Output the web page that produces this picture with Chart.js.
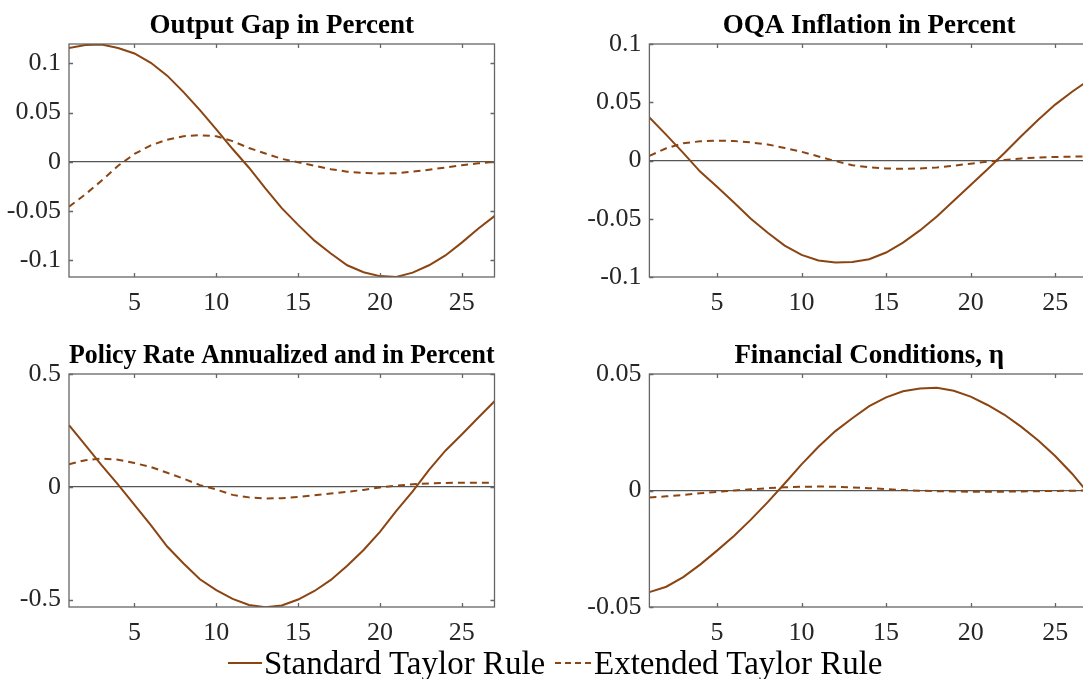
<!DOCTYPE html>
<html>
<head>
<meta charset="utf-8">
<script src="https://cdn.jsdelivr.net/npm/chart.js@4/dist/chart.umd.min.js"></script>
<style>
  html, body { margin: 0; padding: 0; background: #fff; width: 1083px; height: 679px; overflow: hidden; }
  .panel { position: absolute; }
  .legend-text { position: absolute; font-family: "Liberation Serif", "Times New Roman", serif; font-size: 33px; line-height: 33px; color: #000; white-space: nowrap; }
  .legend-line { position: absolute; height: 0; }
</style>
</head>
<body>
<div class="panel" style="left:0px;top:0px;"><canvas id="c1" width="506" height="330"></canvas></div>
<div class="panel" style="left:560px;top:0px;"><canvas id="c2" width="540" height="330"></canvas></div>
<div class="panel" style="left:0px;top:330px;"><canvas id="c3" width="506" height="349"></canvas></div>
<div class="panel" style="left:560px;top:330px;"><canvas id="c4" width="540" height="349"></canvas></div>

<div class="legend-line" style="left:228px;top:662px;width:34px;border-top:2px solid #8B4513;"></div>
<div class="legend-text" style="left:264px;top:647px;">Standard Taylor Rule</div>
<div class="legend-line" style="left:555px;top:662px;width:36px;border-top:2px dashed #8B4513;"></div>
<div class="legend-text" style="left:594px;top:647px;">Extended Taylor Rule</div>

<script>
// ---------------- DATA ----------------
const periods = [1,2,3,4,5,6,7,8,9,10,11,12,13,14,15,16,17,18,19,20,21,22,23,24,25,26,27];

const seriesNames = ['Standard Taylor Rule', 'Extended Taylor Rule'];

const panelTitles = [
  'Output Gap in Percent',
  'OQA Inflation in Percent',
  'Policy Rate Annualized and in Percent',
  'Financial Conditions, \u03B7'
];

// Output gap
const outputGapStandard = [0.1155,0.1185,0.119,0.1155,0.110,0.1005,0.0875,0.0708,0.0525,0.033,0.013,-0.006,-0.027,-0.047,-0.064,-0.080,-0.093,-0.105,-0.112,-0.116,-0.1168,-0.1125,-0.105,-0.095,-0.082,-0.068,-0.055];
const outputGapExtended = [-0.0456,-0.033,-0.019,-0.004,0.008,0.0167,0.0225,0.026,0.027,0.026,0.021,0.014,0.0085,0.003,-0.0005,-0.004,-0.0075,-0.010,-0.0113,-0.0118,-0.0115,-0.010,-0.008,-0.0058,-0.0035,-0.0015,0.0];

// OQA inflation
const inflationStandard = [0.037,0.022,0.0065,-0.0095,-0.0225,-0.036,-0.050,-0.062,-0.073,-0.081,-0.0858,-0.0875,-0.0872,-0.0848,-0.079,-0.0705,-0.060,-0.048,-0.0345,-0.021,-0.0075,0.0065,0.021,0.035,0.048,0.059,0.069];
const inflationExtended = [0.004,0.0105,0.0148,0.0165,0.0171,0.0167,0.0155,0.0138,0.0108,0.0075,0.0035,-0.0005,-0.004,-0.0058,-0.0068,-0.0071,-0.0069,-0.006,-0.0045,-0.0027,-0.001,0.0005,0.0018,0.0026,0.003,0.0033,0.0035];

// Policy rate
const policyRateStandard = [0.273,0.185,0.095,0.01,-0.08,-0.17,-0.265,-0.34,-0.41,-0.458,-0.497,-0.524,-0.534,-0.526,-0.500,-0.462,-0.413,-0.350,-0.280,-0.20,-0.107,-0.02,0.075,0.16,0.232,0.306,0.379];
const policyRateExtended = [0.100,0.118,0.125,0.12,0.105,0.088,0.062,0.036,0.0074,-0.012,-0.036,-0.047,-0.0516,-0.051,-0.045,-0.038,-0.030,-0.022,-0.014,-0.003,0.005,0.011,0.015,0.017,0.018,0.018,0.0177];

// Financial conditions
const financialStandard = [-0.0436,-0.0413,-0.0372,-0.0318,-0.0258,-0.0195,-0.0125,-0.005,0.003,0.0112,0.0188,0.0255,0.031,0.0362,0.040,0.0426,0.0438,0.0441,0.0428,0.0403,0.0367,0.0325,0.0273,0.0215,0.0148,0.0072,-0.0015];
const financialExtended = [-0.003,-0.0025,-0.0019,-0.0012,-0.0006,0.0,0.0005,0.001,0.0014,0.0016,0.0017,0.0016,0.0013,0.001,0.0006,0.0002,-0.0001,-0.0003,-0.0004,-0.0005,-0.0005,-0.0005,-0.0004,-0.0003,-0.0002,-0.0001,0.0];

// Tick values and labels
const xTicks = [5,10,15,20,25];
const xTickLabels = ['5','10','15','20','25'];
const yTicks1 = [-0.1,-0.05,0,0.05,0.1];
const yTickLabels1 = ['-0.1','-0.05','0','0.05','0.1'];
const yTicks2 = [-0.1,-0.05,0,0.05,0.1];
const yTickLabels2 = ['-0.1','-0.05','0','0.05','0.1'];
const yTicks3 = [-0.5,0,0.5];
const yTickLabels3 = ['-0.5','0','0.5'];
const yTicks4 = [-0.05,0,0.05];
const yTickLabels4 = ['-0.05','0','0.05'];

// Axis ranges
const xRange = [1, 27];
const yRange1 = [-0.1169, 0.1196];
const yRange2 = [-0.1, 0.1];
const yRange3 = [-0.533, 0.5];
const yRange4 = [-0.05, 0.05];

// ---------------- STYLE ----------------
const LINE_COLOR = '#8B4513';
const FONT = '"Liberation Serif", "Times New Roman", serif';

const boxPlugin = {
  id: 'boxTicks',
  afterDatasetsDraw(chart) {
    const ctx = chart.ctx;
    const a = chart.chartArea;
    const xs = chart.scales.x, ys = chart.scales.y;
    ctx.save();
    ctx.strokeStyle = '#666666';
    ctx.lineWidth = 1.3;
    ctx.strokeRect(a.left, a.top, a.right - a.left, a.bottom - a.top);
    ctx.beginPath();
    const tl = 4;
    xs.ticks.forEach(t => {
      const px = Math.round(xs.getPixelForValue(t.value)) + 0.5;
      ctx.moveTo(px, a.bottom); ctx.lineTo(px, a.bottom - tl);
      ctx.moveTo(px, a.top); ctx.lineTo(px, a.top + tl);
    });
    ys.ticks.forEach(t => {
      const py = Math.round(ys.getPixelForValue(t.value)) + 0.5;
      ctx.moveTo(a.left, py); ctx.lineTo(a.left + tl, py);
      ctx.moveTo(a.right, py); ctx.lineTo(a.right - tl, py);
    });
    ctx.stroke();
    ctx.restore();
  }
};

function toPoints(values) {
  return periods.map((p, i) => ({ x: p, y: values[i] }));
}

function makePanel(id, title, std, ext, yRange, yTicks, yLabels, yAxisWidth, xAxisHeight, padRight) {
  const ctx = document.getElementById(id).getContext('2d');
  return new Chart(ctx, {
    type: 'line',
    data: {
      datasets: [
        { label: seriesNames[0], data: toPoints(std), borderColor: LINE_COLOR, borderWidth: 2, pointRadius: 0, tension: 0, fill: false },
        { label: seriesNames[1], data: toPoints(ext), borderColor: LINE_COLOR, borderWidth: 2, borderDash: [7, 5], pointRadius: 0, tension: 0, fill: false }
      ]
    },
    options: {
      responsive: false,
      animation: false,
      devicePixelRatio: 1,
      layout: { padding: { left: 0, right: padRight, top: 0, bottom: 0 } },
      plugins: {
        legend: { display: false },
        tooltip: { enabled: false },
        title: {
          display: true,
          text: title,
          fullSize: false,
          color: '#000',
          font: { family: FONT, size: 27, weight: 'bold', lineHeight: 1.2 },
          padding: { top: 10, bottom: 1.6 }
        }
      },
      scales: {
        x: {
          type: 'linear',
          min: xRange[0], max: xRange[1],
          afterBuildTicks: s => { s.ticks = xTicks.map(v => ({ value: v })); },
          afterFit: s => { s.height = xAxisHeight; },
          grid: { display: false, drawTicks: false },
          border: { display: false },
          ticks: {
            color: '#262626',
            font: { family: FONT, size: 26 },
            padding: 11,
            maxRotation: 0,
            autoSkip: false,
            callback: (v) => { const i = xTicks.indexOf(v); return i >= 0 ? xTickLabels[i] : ''; }
          }
        },
        y: {
          type: 'linear',
          min: yRange[0], max: yRange[1],
          afterBuildTicks: s => { s.ticks = yTicks.map(v => ({ value: v })); },
          afterFit: s => { s.width = yAxisWidth; },
          grid: {
            drawTicks: false,
            drawOnChartArea: true,
            color: c => (c.tick && c.tick.value === 0) ? '#555555' : 'rgba(0,0,0,0)',
            lineWidth: 1.2
          },
          border: { display: false },
          ticks: {
            color: '#262626',
            font: { family: FONT, size: 26 },
            padding: 8,
            autoSkip: false,
            callback: (v) => { const i = yTicks.indexOf(v); return i >= 0 ? yLabels[i] : ''; }
          }
        }
      }
    },
    plugins: [boxPlugin]
  });
}

makePanel('c1', panelTitles[0], outputGapStandard, outputGapExtended, yRange1, yTicks1, yTickLabels1, 69, 53, 11.5);
makePanel('c2', panelTitles[1], inflationStandard, inflationExtended, yRange2, yTicks2, yTickLabels2, 89.4, 53, 11);
makePanel('c3', panelTitles[2], policyRateStandard, policyRateExtended, yRange3, yTicks3, yTickLabels3, 69, 72, 11.5);
makePanel('c4', panelTitles[3], financialStandard, financialExtended, yRange4, yTicks4, yTickLabels4, 89.4, 72, 11);
</script>
</body>
</html>
